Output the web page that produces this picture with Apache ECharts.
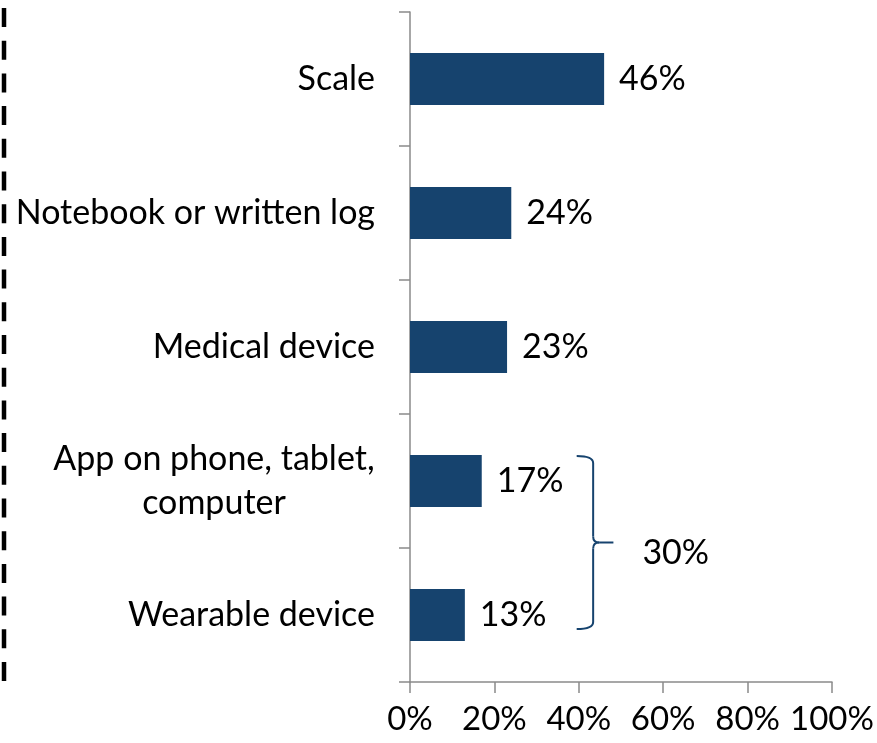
<!DOCTYPE html>
<html>
<head>
<meta charset="utf-8">
<script src="https://cdn.jsdelivr.net/npm/echarts@6/dist/echarts.min.js"></script>
<style>
  html, body { margin: 0; padding: 0; background: #ffffff; }
  #chart { width: 877px; height: 743px; }
</style>
</head>
<body>
<div id="chart"></div>
<script>
// Tracking tools used, share of respondents (%)
const categories = [
  'Scale',
  'Notebook or written log',
  'Medical device',
  'App on phone, tablet,\ncomputer',
  'Wearable device'
];
const shares = [46, 24, 23, 17, 13];
const xTicks = [0, 20, 40, 60, 80, 100];
// Categories grouped under the brace (digital tools)
const groupedIdx = [3, 4];

const FONT = 'Lato, "Open Sans", "Liberation Sans", sans-serif';
const FS = 34;
const TICK_FS = 33;
const BAR_COLOR = '#16436e';
const AXIS_COLOR = '#8a8a8a';

// width of a line of text, so the lines of a wrapped label can be centred
function textWidth(str) {
  const ctx = document.createElement('canvas').getContext('2d');
  ctx.font = FS + 'px ' + FONT;
  return Math.ceil(ctx.measureText(str).width);
}
const wrappedLines = categories.filter(c => c.indexOf('\n') >= 0)
  .reduce((a, c) => a.concat(c.split('\n')), []);
const wrapWidth = Math.max.apply(null, wrappedLines.map(textWidth));

const chart = echarts.init(document.getElementById('chart'), null, { renderer: 'canvas' });

const option = {
  animation: false,
  backgroundColor: '#ffffff',
  grid: { left: 410, right: 45, top: 12, bottom: 61, containLabel: false },
  xAxis: {
    type: 'value',
    min: xTicks[0],
    max: xTicks[xTicks.length - 1],
    interval: xTicks[1] - xTicks[0],
    axisLine: { show: true, lineStyle: { color: AXIS_COLOR, width: 1.5 } },
    axisTick: { show: true, length: 11, lineStyle: { color: AXIS_COLOR, width: 1.5 } },
    splitLine: { show: false },
    axisLabel: {
      margin: 21,
      color: '#000',
      fontFamily: FONT,
      fontSize: TICK_FS,
      formatter: v => v + '%'
    }
  },
  yAxis: {
    type: 'category',
    inverse: true,
    data: categories,
    axisLine: { show: true, lineStyle: { color: AXIS_COLOR, width: 1.5 } },
    axisTick: { show: true, length: 11, alignWithLabel: false, lineStyle: { color: AXIS_COLOR, width: 1.5 } },
    axisLabel: {
      margin: 35,
      color: '#000',
      fontFamily: FONT,
      fontSize: FS,
      lineHeight: 44,
      formatter: function (v) {
        if (v.indexOf('\n') < 0) return v;
        return v.split('\n').map(s => '{c|' + s + '}').join('\n');
      },
      rich: {
        c: {
          width: wrapWidth,
          align: 'center',
          color: '#000',
          fontFamily: FONT,
          fontSize: FS,
          lineHeight: 44
        }
      }
    }
  },
  series: [{
    type: 'bar',
    data: shares,
    barWidth: 52,
    itemStyle: { color: BAR_COLOR },
    label: {
      show: true,
      position: 'right',
      distance: 15,
      color: '#000',
      fontFamily: FONT,
      fontSize: FS,
      formatter: p => p.value + '%'
    }
  }]
};

chart.setOption(option);

// Decorations: dashed rule on the far left, and the brace summing the grouped bars
function drawExtras() {
  const groupTotal = groupedIdx.reduce((s, i) => s + shares[i], 0);
  const yTopCat = chart.convertToPixel({ yAxisIndex: 0 }, categories[groupedIdx[0]]);
  const yBotCat = chart.convertToPixel({ yAxisIndex: 0 }, categories[groupedIdx[groupedIdx.length - 1]]);
  const yT = yTopCat - 25;
  const yB = yBotCat + 14;
  const ym = (yT + yB) / 2;
  const x0 = chart.convertToPixel({ xAxisIndex: 0 }, 39.5);
  const xs = chart.convertToPixel({ xAxisIndex: 0 }, 43.4);
  const xt = chart.convertToPixel({ xAxisIndex: 0 }, 48.2);
  const r = 7;
  const k = 6;
  const braceStyle = { stroke: BAR_COLOR, lineWidth: 2, fill: null };

  const curve = (x1, y1, cx, cy, x2, y2) => ({
    type: 'bezierCurve', silent: true,
    shape: { x1: x1, y1: y1, cpx1: cx, cpy1: cy, x2: x2, y2: y2 },
    style: braceStyle
  });
  const seg = (x1, y1, x2, y2) => ({
    type: 'line', silent: true,
    shape: { x1: x1, y1: y1, x2: x2, y2: y2 },
    style: braceStyle
  });

  chart.setOption({
    graphic: [
      {
        type: 'line',
        silent: true,
        shape: { x1: 4, y1: 8, x2: 4, y2: 681 },
        style: { stroke: '#000', lineWidth: 4.5, lineDash: [19, 13.7] }
      },
      curve(x0, yT, xs, yT, xs, yT + r),
      seg(xs, yT + r, xs, ym - k),
      curve(xs, ym - k, xs, ym, xs + k, ym),
      seg(xs + k, ym, xt, ym),
      curve(xs + k, ym, xs, ym, xs, ym + k),
      seg(xs, ym + k, xs, yB - r),
      curve(xs, yB - r, xs, yB, x0, yB),
      {
        type: 'text',
        silent: true,
        x: xt + 29,
        y: ym + 11,
        style: {
          text: groupTotal + '%',
          fill: '#000',
          font: FS + 'px ' + FONT,
          verticalAlign: 'middle'
        }
      }
    ]
  });
}
drawExtras();
</script>
</body>
</html>
